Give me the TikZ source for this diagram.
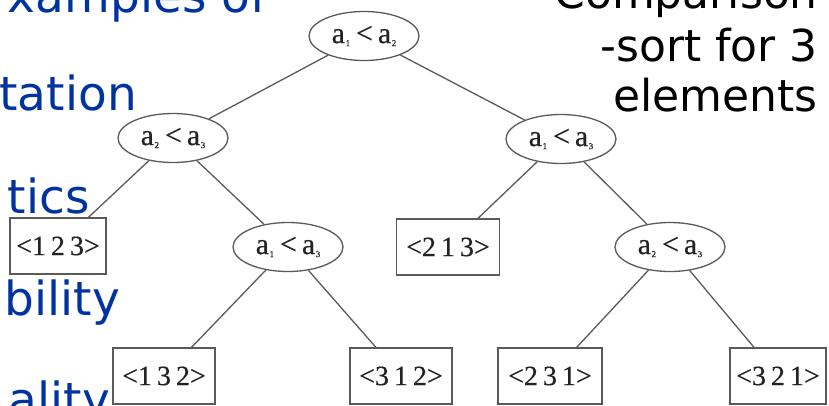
\documentclass[tikz,border=0pt]{standalone}
\usepackage{fontspec}
\setmainfont{Liberation Serif}
\newfontfamily\slidefont{DejaVu Sans}
\newfontfamily\treefont[FakeBold=0.4]{Liberation Serif}
\usetikzlibrary{shapes.geometric}
\definecolor{slideblue}{RGB}{0,51,160}
\definecolor{treegray}{RGB}{90,90,90}
\definecolor{treetext}{RGB}{35,35,35}
% a_i < a_j label of a comparison node
\newcommand{\cmpnode}[2]{a\kern0.5pt\raisebox{-3pt}{\fontsize{9}{9}\selectfont #1}\hspace{6pt}<\hspace{5pt}a\kern0.5pt\raisebox{-3pt}{\fontsize{9}{9}\selectfont #2}}
% permutation label of a leaf
\newcommand{\perm}[3]{<#1\hspace{5pt}#2\hspace{5pt}#3>}
\tikzset{
  x=1pt, y=-1pt,
  test/.style={ellipse, draw=treegray, line width=1.3pt, minimum width=110pt,
    minimum height=49pt, inner sep=0pt, text=treetext, font=\treefont\fontsize{30}{30}\selectfont},
  leaf/.style={rectangle, draw=treegray, line width=1.3pt, minimum width=100pt,
    minimum height=56pt, inner sep=0pt, text=treetext, font=\treefont\fontsize{28}{28}\selectfont},
  edge/.style={draw=treegray, line width=1.3pt},
  bullettext/.style={anchor=base east, inner sep=0pt, text=slideblue,
    font=\slidefont\fontsize{47}{47}\selectfont},
  titletext/.style={anchor=base east, inner sep=0pt, text=black,
    font=\slidefont\fontsize{44}{44}\selectfont}
}
\begin{document}
\begin{tikzpicture}
\useasboundingbox (0,0) rectangle (829,405);
\clip (0,0) rectangle (829,405);
\fill[white] (0,0) rectangle (829,405);

% slide text behind the tree
\node[bullettext] (s1) at (267,12) {xamples of};
\node[bullettext] (s2) at (137,110) {tation};
\node[bullettext] (s3) at (90,213) {tics};
\node[bullettext] (s4) at (120,315) {bility};
\node[bullettext] (s5) at (110,416) {ality};

\node[titletext] (t1) at (818,8) {Comparison};
\node[titletext] (t2) at (818,61) {-sort for 3};
\node[titletext] (t3) at (818,111) {elements};

% decision tree
\node[test] (root) at (364,36) {\cmpnode{1}{2}};
\node[test] (l) at (173,138) {\cmpnode{2}{3}};
\node[test] (r) at (561,139) {\cmpnode{1}{3}};
\node[test] (lm) at (288,247) {\cmpnode{1}{3}};
\node[test] (rr) at (670,247) {\cmpnode{2}{3}};

\node[leaf, minimum width=96pt] (p123) at (58,246) {\perm{1}{2}{3}};
\node[leaf, minimum width=103pt] (p213) at (448,247) {\perm{2}{1}{3}};
\node[leaf, minimum width=102pt] (p132) at (164,376) {\perm{1}{3}{2}};
\node[leaf, minimum width=102pt] (p312) at (401,376) {\perm{3}{1}{2}};
\node[leaf, minimum width=104pt] (p231) at (550,376) {\perm{2}{3}{1}};
\node[leaf, minimum width=96pt] (p321) at (778,376) {\perm{3}{2}{1}};

\draw[edge] (root) -- (l);
\draw[edge] (root) -- (r);
\draw[edge] (l) -- (p123);
\draw[edge] (l) -- (lm);
\draw[edge] (r) -- (p213);
\draw[edge] (r) -- (rr);
\draw[edge] (lm) -- (p132);
\draw[edge] (lm) -- (p312);
\draw[edge] (rr) -- (p231);
\draw[edge] (rr) -- (p321);
\end{tikzpicture}
\end{document}
